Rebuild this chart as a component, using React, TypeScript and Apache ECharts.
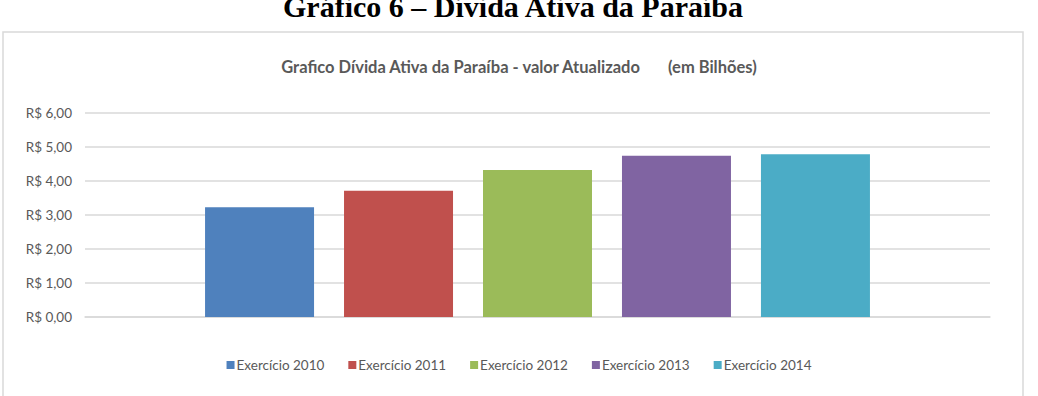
import React, { useEffect, useRef } from "react";
import * as echarts from "echarts";

const pageTitle = "Gráfico 6 – Dívida Ativa da Paraíba";
const chartTitle = "Grafico Dívida Ativa da Paraíba - valor Atualizado       (em Bilhões)";
const seriesNames = ["Exercício 2010", "Exercício 2011", "Exercício 2012", "Exercício 2013", "Exercício 2014"];
const seriesValues = [3.23, 3.71, 4.32, 4.74, 4.79];
const seriesColors = ["#4f81bd", "#c0504d", "#9bbb59", "#8064a2", "#4bacc6"];
const yMin = 0;
const yMax = 6;
const yStep = 1;

const fmt = (v: number) => "R$ " + v.toFixed(2).replace(".", ",");

export default function App() {
  const ref = useRef<HTMLDivElement>(null);
  useEffect(() => {
    if (!ref.current) return;
    const chart = echarts.init(ref.current, null, { renderer: "svg" });
    chart.setOption({
      animation: false,
      backgroundColor: "#ffffff",
      title: {
        text: chartTitle,
        left: "center",
        top: 53,
        textStyle: { fontFamily: "Lato", fontWeight: "bold", fontSize: 16.5, color: "#595959" },
      },
      legend: {
        bottom: 19,
        left: "center",
        itemWidth: 8,
        itemHeight: 8,
        itemGap: 24,
        icon: "rect",
        textStyle: { fontFamily: "Lato", fontSize: 13.5, color: "#595959", padding: [0, 0, 0, -3] },
        data: seriesNames,
      },
      grid: { left: 85, right: 48, top: 113, bottom: 79 },
      xAxis: {
        type: "category",
        data: [""],
        axisLine: { show: true, lineStyle: { color: "#d9d9d9", width: 1.5 } },
        axisTick: { show: false },
        axisLabel: { show: false },
      },
      yAxis: {
        type: "value",
        min: yMin,
        max: yMax,
        interval: yStep,
        axisLine: { show: false },
        axisTick: { show: false },
        axisLabel: {
          formatter: (v: number) => fmt(v),
          fontFamily: "Lato",
          fontSize: 13.5,
          color: "#595959",
          margin: 13,
        },
        splitLine: { lineStyle: { color: "#d9d9d9", width: 1.5 } },
      },
      series: seriesNames.map((name, i) => ({
        name,
        type: "bar",
        data: [seriesValues[i]],
        barWidth: 109,
        barGap: "27.5%",
        itemStyle: { color: seriesColors[i] },
      })),
      graphic: [
        {
          type: "rect",
          shape: { x: 3, y: 32, width: 1020, height: 380 },
          style: { fill: "none", stroke: "#d9d9d9", lineWidth: 1.5 },
          silent: true,
        },
        {
          type: "text",
          x: 513,
          y: 6,
          style: {
            text: pageTitle,
            font: "bold 30px 'Liberation Serif'",
            fill: "#000000",
            align: "center",
            verticalAlign: "middle",
          },
          silent: true,
        },
      ],
    });
    return () => chart.dispose();
  }, []);
  return (
    <div
      ref={ref}
      style={{ position: "absolute", left: 0, top: 0, width: 1038, height: 396 }}
    />
  );
}
